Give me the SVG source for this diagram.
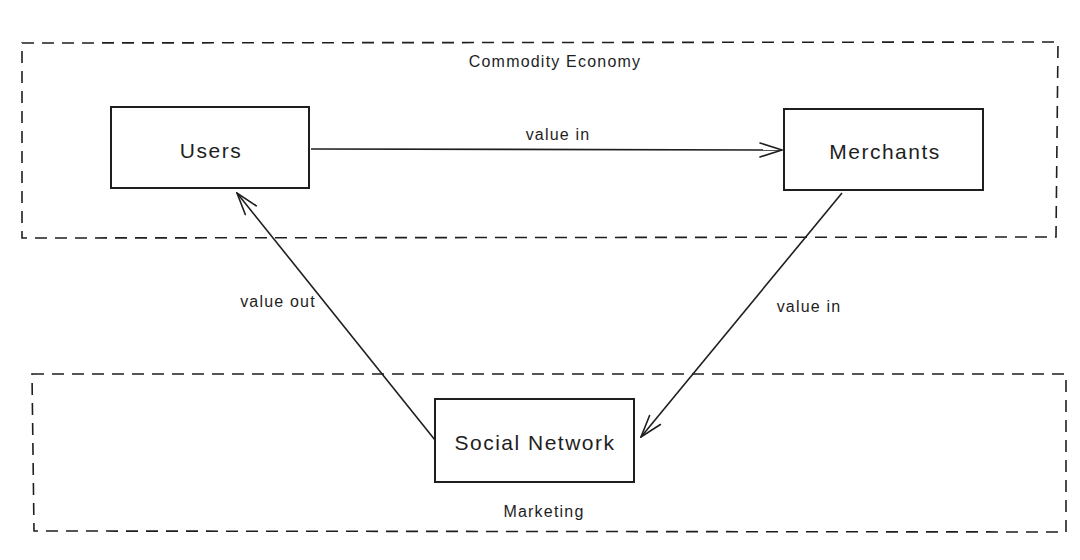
<svg xmlns="http://www.w3.org/2000/svg" width="1080" height="560" viewBox="0 0 1080 560">
<style>
.frame{fill:none;stroke:#1e1e1e;stroke-width:1.6;stroke-dasharray:12 8;}
.box{fill:#fff;stroke:#1e1e1e;stroke-width:2;}
.conn{fill:none;stroke:#1e1e1e;stroke-width:1.6;}
.t{font-family:"Liberation Sans",Arial,sans-serif;fill:#1e1e1e;text-anchor:middle;dominant-baseline:central;}
.lg{font-size:21px;letter-spacing:1.5px;}
.sm{font-size:16px;letter-spacing:1.2px;}
</style>
<defs>
<marker id="ah" viewBox="0 0 24 16" refX="23" refY="8" markerWidth="24" markerHeight="16" markerUnits="userSpaceOnUse" orient="auto">
<path d="M1,1 L23,8 L1,15" fill="none" stroke="#1e1e1e" stroke-width="1.6" stroke-linecap="round"/>
</marker>
</defs>
<g id="group-commodity">
<path class="frame" d="M22,43 L1058,42 L1056,237 L22,238 Z"/>
<text class="t sm" x="555" y="61">Commodity Economy</text>
</g>
<g id="group-marketing">
<path class="frame" d="M32,374 L1066,374 L1066,532 L34,531 Z"/>
<text class="t sm" x="544" y="511">Marketing</text>
</g>
<g id="connectors">
<line class="conn" x1="311" y1="149" x2="782" y2="150" marker-end="url(#ah)"/>
<line class="conn" x1="842" y1="193" x2="641" y2="437" marker-end="url(#ah)"/>
<line class="conn" x1="435" y1="440" x2="237" y2="193" marker-end="url(#ah)"/>
<text class="t sm" x="558" y="134">value in</text>
<text class="t sm" x="809" y="306">value in</text>
<text class="t sm" x="278" y="301">value out</text>
</g>
<g id="node-users">
<rect class="box" x="111" y="107" width="198" height="81"/>
<text class="t lg" x="211" y="150">Users</text>
</g>
<g id="node-merchants">
<rect class="box" x="784" y="109" width="199" height="81"/>
<text class="t lg" x="885" y="151">Merchants</text>
</g>
<g id="node-social">
<rect class="box" x="435" y="399" width="199" height="83"/>
<text class="t lg" x="535" y="442">Social Network</text>
</g>
</svg>
